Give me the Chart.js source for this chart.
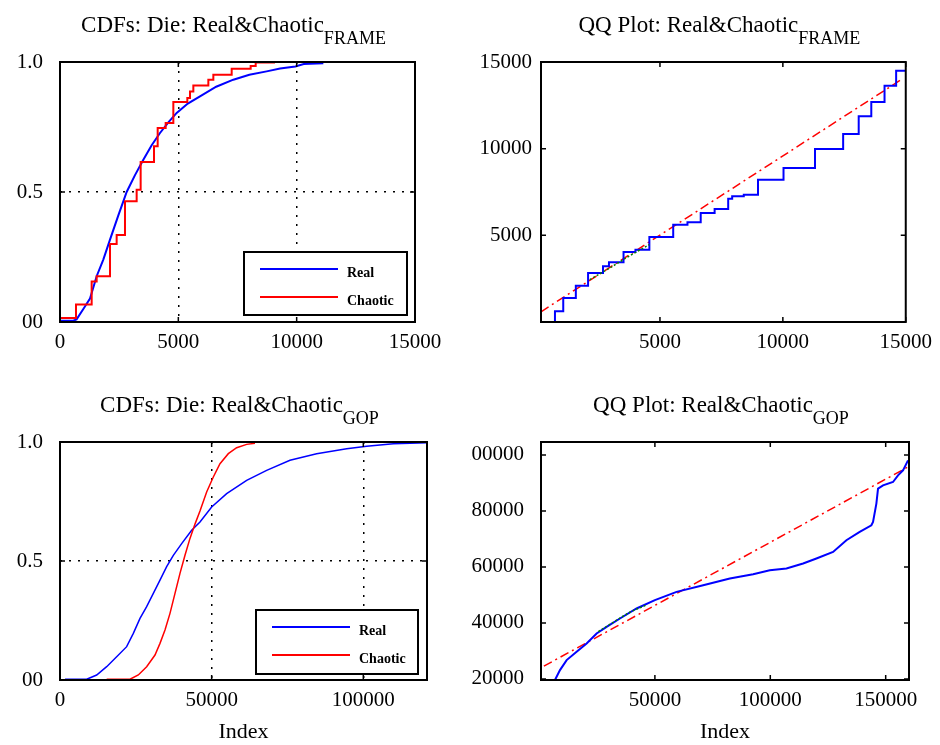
<!DOCTYPE html>
<html>
<head>
<meta charset="utf-8">
<title>CDFs and QQ plots: Real & Chaotic</title>
<script src="https://cdn.jsdelivr.net/npm/chart.js@4.4.1/dist/chart.umd.min.js"></script>
<style>
  html, body { margin: 0; padding: 0; background: #fff; }
  #wrap { position: relative; width: 940px; height: 745px; overflow: hidden; }
  canvas { position: absolute; }
</style>
</head>
<body>
<div id="wrap">
  <canvas id="cdfFrame" width="470" height="370" style="left:0;top:0"></canvas>
  <canvas id="qqFrame" width="470" height="370" style="left:470px;top:0"></canvas>
  <canvas id="cdfGop" width="470" height="375" style="left:0;top:370px"></canvas>
  <canvas id="qqGop" width="470" height="375" style="left:470px;top:370px"></canvas>
</div>
<script>
// ---- data ----

// CDFs, frame level
var realFrameX = [0, 560, 700, 986, 1268, 1549, 1830, 2113, 2465, 2817, 3169, 3521, 3873, 4225, 4578, 4930, 5400, 5915, 6600, 7324, 8000, 8732, 9300, 9944, 10300, 11127];
var realFrameF = [0.005, 0.005, 0.01, 0.05, 0.09, 0.176, 0.24, 0.317, 0.41, 0.5, 0.565, 0.624, 0.68, 0.727, 0.768, 0.804, 0.84, 0.868, 0.905, 0.932, 0.951, 0.964, 0.975, 0.983, 0.992, 0.995];
var chaoticFrameX = [0, 676, 1338, 1549, 2113, 2394, 2746, 3239, 3408, 3972, 4127, 4465, 4789, 5380, 5493, 5634, 6268, 6479, 7254, 8056, 8268, 9085];
var chaoticFrameF = [0.015, 0.067, 0.156, 0.176, 0.30, 0.335, 0.464, 0.509, 0.615, 0.676, 0.746, 0.765, 0.846, 0.862, 0.887, 0.91, 0.932, 0.951, 0.974, 0.985, 0.998, 0.998];

// QQ, frame level
var qqFrameX = [728, 728, 1065, 1577, 2075, 2682, 2925, 3518, 4003, 4569, 5539, 6119, 6658, 7224, 7776, 7938, 8410, 8989, 10027, 11307, 12453, 13086, 13598, 14137, 14609, 15013];
var qqFrameY = [0, 615, 1385, 2096, 2827, 3212, 3442, 4038, 4173, 4904, 5615, 5750, 6288, 6519, 7115, 7250, 7346, 8211, 8885, 9981, 10846, 11865, 12692, 13635, 14500, 14500];
var fitFrameX = [160, 14900];
var fitFrameY = [590, 14060];
var midFrameX = [2143, 3000, 3800, 4569];
var midFrameY = [2442, 3150, 3850, 4462];

// CDFs, GOP level
var realGopX = [1650, 8800, 12088, 15385, 18681, 21978, 24176, 26374, 28571, 30769, 32967, 35165, 37363, 40110, 43407, 46154, 50000, 54945, 61538, 68132, 75824, 84615, 94505, 101099, 109890, 121000];
var realGopF = [0.003, 0.003, 0.021, 0.056, 0.098, 0.14, 0.196, 0.259, 0.308, 0.364, 0.42, 0.476, 0.524, 0.573, 0.629, 0.664, 0.727, 0.783, 0.839, 0.881, 0.923, 0.951, 0.972, 0.982, 0.993, 0.997];
var chaoticGopX = [15385, 23077, 25824, 28571, 31319, 32967, 34615, 36264, 37912, 39560, 41209, 42857, 44505, 46154, 48352, 50549, 52747, 55495, 58242, 61538, 64286];
var chaoticGopF = [0.003, 0.003, 0.021, 0.056, 0.105, 0.154, 0.21, 0.28, 0.364, 0.448, 0.524, 0.595, 0.655, 0.71, 0.79, 0.853, 0.909, 0.951, 0.976, 0.99, 0.995];

// QQ, GOP level
var qqGopX = [6710, 8874, 11760, 16089, 20418, 24747, 29076, 34848, 42063, 50000, 59380, 70924, 82468, 92569, 99784, 106999, 114214, 119986, 127201, 132973, 138745, 143795, 144517, 145960, 146681, 148846, 153175, 155339, 157504, 159668];
var qqGopY = [19600, 23139, 26706, 29679, 32652, 36219, 38597, 41570, 45137, 48109, 51082, 53460, 55838, 57384, 58811, 59405, 61189, 62973, 65351, 69512, 72485, 74863, 76052, 82592, 87943, 89132, 90321, 92699, 94483, 98050];
var fitGopX = [1900, 159700];
var fitGopY = [24550, 95700];
var midGopX = [25500, 30000, 35000, 40000, 46400];
var midGopY = [36900, 39200, 41800, 44200, 46400];

// tick values and labels
var cdfTicks = [0, 0.5, 1];
var cdfLabels = ['00', '0.5', '1.0'];
var frameCdfTicks = [0, 5000, 10000, 15000];
var frameQqTicks = [5000, 10000, 15000];
var gopCdfTicks = [0, 50000, 100000];
var gopQqTicksX = [50000, 100000, 150000];
var gopQqTicksY = [20000, 40000, 60000, 80000, 100000];

var SERIF = '"Liberation Serif", "Times New Roman", serif';
var BLUE = '#0000ff', RED = '#ff0000', GREEN = '#008000';

function pts(xs, ys) {
  return xs.map(function (x, i) { return {x: x, y: ys[i]}; });
}

function axis(min, max, ticks, labels, size, pad, vertical, grid, title) {
  return {
    type: 'linear', min: min, max: max,
    afterBuildTicks: function (s) { s.ticks = ticks.map(function (v) { return {value: v}; }); },
    afterFit: function (s) { if (vertical) s.width = size; else s.height = size; },
    ticks: {
      padding: pad, color: '#000', autoSkip: false, maxRotation: 0,
      font: {family: SERIF, size: 21},
      callback: function (v) { return labels[ticks.indexOf(v)]; }
    },
    grid: {display: grid, drawTicks: false, color: '#000', lineWidth: 1.5},
    border: {display: false, dash: [2, 7]},
    title: title ? {display: true, text: title, color: '#000', padding: 0, font: {family: SERIF, size: 22}} : {display: false}
  };
}

// frame box, inward ticks, in-plot legend and subscripted title
var boxPlugin = {
  id: 'box',
  afterDraw: function (chart, args, o) {
    var ctx = chart.ctx, a = chart.chartArea;
    if (!o || !o.title) return;
    ctx.save();
    ctx.strokeStyle = '#000';
    ctx.lineWidth = 1.5;
    var sx = chart.scales.x, sy = chart.scales.y;
    sx.ticks.forEach(function (t) {
      var p = sx.getPixelForValue(t.value);
      ctx.beginPath();
      ctx.moveTo(p, a.bottom); ctx.lineTo(p, a.bottom - 5);
      ctx.moveTo(p, a.top); ctx.lineTo(p, a.top + 5);
      ctx.stroke();
    });
    sy.ticks.forEach(function (t) {
      var p = sy.getPixelForValue(t.value);
      ctx.beginPath();
      ctx.moveTo(a.left, p); ctx.lineTo(a.left + 5, p);
      ctx.moveTo(a.right, p); ctx.lineTo(a.right - 5, p);
      ctx.stroke();
    });
    ctx.lineWidth = 2;
    ctx.strokeRect(a.left, a.top, a.right - a.left, a.bottom - a.top);

    if (o.legend) {
      var L = o.legend;
      var lx = a.right - L.right - L.w, ly = a.bottom - L.bottom - L.h;
      ctx.fillStyle = '#fff';
      ctx.fillRect(lx, ly, L.w, L.h);
      ctx.strokeRect(lx, ly, L.w, L.h);
      ctx.font = 'bold 14px ' + SERIF;
      ctx.textBaseline = 'alphabetic';
      L.items.forEach(function (idx, k) {
        var ds = chart.data.datasets[idx];
        var yy = ly + 17 + k * 28;
        ctx.strokeStyle = ds.borderColor;
        ctx.lineWidth = 2;
        ctx.beginPath(); ctx.moveTo(lx + 16, yy); ctx.lineTo(lx + 94, yy); ctx.stroke();
        ctx.fillStyle = '#000';
        ctx.fillText(ds.label, lx + 103, yy + 8);
      });
    }

    var T = o.title;
    ctx.fillStyle = '#000';
    ctx.textBaseline = 'alphabetic';
    ctx.font = '23px ' + SERIF;
    var w1 = ctx.measureText(T.text).width;
    ctx.font = '18px ' + SERIF;
    var w2 = ctx.measureText(T.sub).width;
    var x0 = (a.left + a.right) / 2 - (w1 + w2) / 2 - 4;
    ctx.font = '23px ' + SERIF;
    ctx.fillText(T.text, x0, T.y);
    ctx.font = '18px ' + SERIF;
    ctx.fillText(T.sub, x0 + w1, T.y + 12);
    ctx.restore();
  }
};
Chart.register(boxPlugin);

function baseOptions(pad, scales, box) {
  return {
    responsive: false, animation: false, events: [],
    layout: {padding: pad},
    elements: {point: {radius: 0}, line: {tension: 0, fill: false}},
    plugins: {legend: {display: false}, tooltip: {enabled: false}, box: box},
    scales: scales
  };
}

new Chart(document.getElementById('cdfFrame'), {
  type: 'line',
  data: {datasets: [
    {label: 'Real', data: pts(realFrameX, realFrameF), borderColor: BLUE, borderWidth: 2, order: 2},
    {label: 'Chaotic', data: pts(chaoticFrameX, chaoticFrameF), borderColor: RED, borderWidth: 2, stepped: 'before', order: 1}
  ]},
  options: baseOptions({left: 0, right: 55, top: 62, bottom: 0}, {
    x: axis(0, 15000, frameCdfTicks, frameCdfTicks.map(String), 48, 8, false, true),
    y: axis(0, 1, cdfTicks, cdfLabels, 60, 17, true, true)
  }, {title: {text: 'CDFs: Die: Real&Chaotic', sub: 'FRAME', y: 32},
      legend: {right: 8, bottom: 7, w: 163, h: 63, items: [0, 1]}})
});

new Chart(document.getElementById('qqFrame'), {
  type: 'line',
  data: {datasets: [
    {label: 'QQ', data: pts(qqFrameX, qqFrameY), borderColor: BLUE, borderWidth: 2, stepped: 'before', order: 2},
    {label: 'Fit', data: pts(fitFrameX, fitFrameY), borderColor: RED, borderWidth: 1.5, borderDash: [9, 4, 2, 4], order: 3},
    {label: 'Quartiles', data: pts(midFrameX, midFrameY), borderColor: GREEN, borderWidth: 1.5, borderDash: [2, 2], order: 1}
  ]},
  options: baseOptions({left: 0, right: 31, top: 62, bottom: 0}, {
    x: axis(160, 15000, frameQqTicks, frameQqTicks.map(String), 48, 8, false, false),
    y: axis(0, 15000, frameQqTicks, frameQqTicks.map(String), 71, 9, true, false)
  }, {title: {text: 'QQ Plot: Real&Chaotic', sub: 'FRAME', y: 32}})
});

new Chart(document.getElementById('cdfGop'), {
  type: 'line',
  data: {datasets: [
    {label: 'Real', data: pts(realGopX, realGopF), borderColor: BLUE, borderWidth: 1.5, order: 2},
    {label: 'Chaotic', data: pts(chaoticGopX, chaoticGopF), borderColor: RED, borderWidth: 1.5, order: 1}
  ]},
  options: baseOptions({left: 0, right: 43, top: 72, bottom: 0}, {
    x: axis(0, 121000, gopCdfTicks, gopCdfTicks.map(String), 65, 8, false, true, 'Index'),
    y: axis(0, 1, cdfTicks, cdfLabels, 60, 17, true, true)
  }, {title: {text: 'CDFs: Die: Real&Chaotic', sub: 'GOP', y: 42},
      legend: {right: 9, bottom: 6, w: 162, h: 64, items: [0, 1]}})
});

new Chart(document.getElementById('qqGop'), {
  type: 'line',
  data: {datasets: [
    {label: 'QQ', data: pts(qqGopX, qqGopY), borderColor: BLUE, borderWidth: 2, order: 2},
    {label: 'Fit', data: pts(fitGopX, fitGopY), borderColor: RED, borderWidth: 1.5, borderDash: [9, 4, 2, 4], order: 3},
    {label: 'Quartiles', data: pts(midGopX, midGopY), borderColor: GREEN, borderWidth: 1.5, borderDash: [2, 2], order: 1}
  ]},
  options: baseOptions({left: 0, right: 31, top: 72, bottom: 0}, {
    x: axis(650, 160100, gopQqTicksX, gopQqTicksX.map(String), 65, 8, false, false, 'Index'),
    y: axis(19600, 104600, gopQqTicksY, gopQqTicksY.map(String), 71, 17, true, false)
  }, {title: {text: 'QQ Plot: Real&Chaotic', sub: 'GOP', y: 42}})
});
</script>
</body>
</html>
